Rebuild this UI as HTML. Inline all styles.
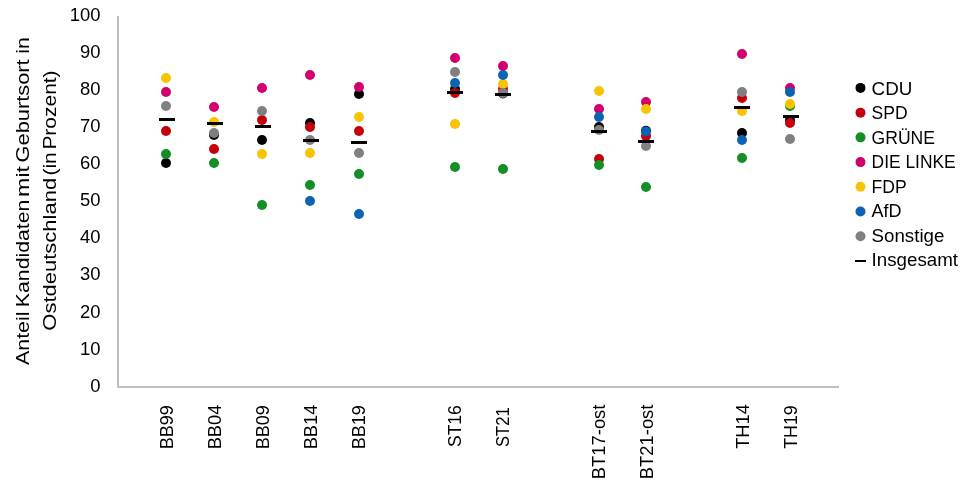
<!DOCTYPE html><html><head><meta charset="utf-8"><style>html,body{margin:0;padding:0;background:#fff;width:969px;height:491px;overflow:hidden}svg{display:block;will-change:transform}text{font-family:"Liberation Sans",Arial,sans-serif;fill:#000}</style></head><body>
<svg width="969" height="491" viewBox="0 0 969 491">
<rect width="969" height="491" fill="#fff"/>
<path d="M118 16 V387 H839" fill="none" stroke="#BFBFBF" stroke-width="2" stroke-linejoin="round"/>
<text x="100.5" y="391.6" font-size="18.4" text-anchor="end">0</text>
<text x="100.5" y="354.5" font-size="18.4" text-anchor="end">10</text>
<text x="100.5" y="317.5" font-size="18.4" text-anchor="end">20</text>
<text x="100.5" y="280.4" font-size="18.4" text-anchor="end">30</text>
<text x="100.5" y="243.4" font-size="18.4" text-anchor="end">40</text>
<text x="100.5" y="206.3" font-size="18.4" text-anchor="end">50</text>
<text x="100.5" y="169.2" font-size="18.4" text-anchor="end">60</text>
<text x="100.5" y="132.2" font-size="18.4" text-anchor="end">70</text>
<text x="100.5" y="95.1" font-size="18.4" text-anchor="end">80</text>
<text x="100.5" y="58.1" font-size="18.4" text-anchor="end">90</text>
<text x="100.5" y="21.0" font-size="18.4" text-anchor="end">100</text>
<text transform="translate(29.3,364.94) rotate(-90)" font-size="19.2" textLength="53.37" lengthAdjust="spacingAndGlyphs">Anteil</text>
<text transform="translate(29.3,307.14) rotate(-90)" font-size="19.2" textLength="107.52" lengthAdjust="spacingAndGlyphs">Kandidaten</text>
<text transform="translate(29.3,196.95) rotate(-90)" font-size="19.2" textLength="31.02" lengthAdjust="spacingAndGlyphs">mit</text>
<text transform="translate(29.3,162.50) rotate(-90)" font-size="19.2" textLength="103.16" lengthAdjust="spacingAndGlyphs">Geburtsort</text>
<text transform="translate(29.3,53.83) rotate(-90)" font-size="19.2" textLength="16.61" lengthAdjust="spacingAndGlyphs">in</text>
<text transform="translate(55.8,330.64) rotate(-90)" font-size="19.2" textLength="152.76" lengthAdjust="spacingAndGlyphs">Ostdeutschland</text>
<text transform="translate(55.8,175.60) rotate(-90)" font-size="19.2" textLength="23.37" lengthAdjust="spacingAndGlyphs">(in</text>
<text transform="translate(55.8,149.62) rotate(-90)" font-size="19.2" textLength="79.22" lengthAdjust="spacingAndGlyphs">Prozent)</text>
<text transform="translate(172.6,405.11) rotate(-90)" font-size="18.3" text-anchor="end" textLength="44.20" lengthAdjust="spacingAndGlyphs">BB99</text>
<text transform="translate(220.6,404.70) rotate(-90)" font-size="18.3" text-anchor="end" textLength="44.63" lengthAdjust="spacingAndGlyphs">BB04</text>
<text transform="translate(268.6,405.11) rotate(-90)" font-size="18.3" text-anchor="end" textLength="44.20" lengthAdjust="spacingAndGlyphs">BB09</text>
<text transform="translate(316.6,404.70) rotate(-90)" font-size="18.3" text-anchor="end" textLength="44.63" lengthAdjust="spacingAndGlyphs">BB14</text>
<text transform="translate(364.6,405.11) rotate(-90)" font-size="18.3" text-anchor="end" textLength="44.20" lengthAdjust="spacingAndGlyphs">BB19</text>
<text transform="translate(460.6,405.15) rotate(-90)" font-size="18.3" text-anchor="end" textLength="41.89" lengthAdjust="spacingAndGlyphs">ST16</text>
<text transform="translate(508.6,407.41) rotate(-90)" font-size="18.3" text-anchor="end" textLength="39.55" lengthAdjust="spacingAndGlyphs">ST21</text>
<text transform="translate(604.6,404.60) rotate(-90)" font-size="18.3" text-anchor="end" textLength="74.58" lengthAdjust="spacingAndGlyphs">BT17-ost</text>
<text transform="translate(652.6,404.60) rotate(-90)" font-size="18.3" text-anchor="end" textLength="74.58" lengthAdjust="spacingAndGlyphs">BT21-ost</text>
<text transform="translate(748.6,404.10) rotate(-90)" font-size="18.3" text-anchor="end" textLength="44.72" lengthAdjust="spacingAndGlyphs">TH14</text>
<text transform="translate(796.6,405.33) rotate(-90)" font-size="18.3" text-anchor="end" textLength="43.47" lengthAdjust="spacingAndGlyphs">TH19</text>
<circle cx="166" cy="163" r="5.0" fill="#000000"/>
<circle cx="214" cy="135" r="5.0" fill="#000000"/>
<circle cx="262" cy="140" r="5.0" fill="#000000"/>
<circle cx="310" cy="123" r="5.0" fill="#000000"/>
<circle cx="359" cy="94" r="5.0" fill="#000000"/>
<circle cx="455" cy="89" r="5.0" fill="#000000"/>
<circle cx="503" cy="93.5" r="5.0" fill="#000000"/>
<circle cx="599" cy="127" r="5.0" fill="#000000"/>
<circle cx="646" cy="130.7" r="5.0" fill="#000000"/>
<circle cx="742" cy="133" r="5.0" fill="#000000"/>
<circle cx="790" cy="120" r="5.0" fill="#000000"/>
<circle cx="166" cy="131" r="5.0" fill="#C4000C"/>
<circle cx="214" cy="149" r="5.0" fill="#C4000C"/>
<circle cx="262" cy="120" r="5.0" fill="#C4000C"/>
<circle cx="310" cy="127" r="5.0" fill="#C4000C"/>
<circle cx="359" cy="131" r="5.0" fill="#C4000C"/>
<circle cx="455" cy="93" r="5.0" fill="#C4000C"/>
<circle cx="503" cy="89" r="5.0" fill="#C4000C"/>
<circle cx="599" cy="159" r="5.0" fill="#C4000C"/>
<circle cx="646" cy="136" r="5.0" fill="#C4000C"/>
<circle cx="742" cy="98" r="5.0" fill="#C4000C"/>
<circle cx="790" cy="123" r="5.0" fill="#C4000C"/>
<circle cx="166" cy="154" r="5.0" fill="#138F26"/>
<circle cx="214" cy="163" r="5.0" fill="#138F26"/>
<circle cx="262" cy="205" r="5.0" fill="#138F26"/>
<circle cx="310" cy="185" r="5.0" fill="#138F26"/>
<circle cx="359" cy="174" r="5.0" fill="#138F26"/>
<circle cx="455" cy="167" r="5.0" fill="#138F26"/>
<circle cx="503" cy="169" r="5.0" fill="#138F26"/>
<circle cx="599" cy="165" r="5.0" fill="#138F26"/>
<circle cx="646" cy="187" r="5.0" fill="#138F26"/>
<circle cx="742" cy="158" r="5.0" fill="#138F26"/>
<circle cx="790" cy="106" r="5.0" fill="#138F26"/>
<circle cx="166" cy="92" r="5.0" fill="#D2006E"/>
<circle cx="214" cy="107" r="5.0" fill="#D2006E"/>
<circle cx="262" cy="88" r="5.0" fill="#D2006E"/>
<circle cx="310" cy="75" r="5.0" fill="#D2006E"/>
<circle cx="359" cy="87" r="5.0" fill="#D2006E"/>
<circle cx="455" cy="58" r="5.0" fill="#D2006E"/>
<circle cx="503" cy="66" r="5.0" fill="#D2006E"/>
<circle cx="599" cy="109" r="5.0" fill="#D2006E"/>
<circle cx="646" cy="102" r="5.0" fill="#D2006E"/>
<circle cx="742" cy="54" r="5.0" fill="#D2006E"/>
<circle cx="790" cy="88" r="5.0" fill="#D2006E"/>
<circle cx="166" cy="78" r="5.0" fill="#FAC300"/>
<circle cx="214" cy="122" r="5.0" fill="#FAC300"/>
<circle cx="262" cy="154" r="5.0" fill="#FAC300"/>
<circle cx="310" cy="153" r="5.0" fill="#FAC300"/>
<circle cx="359" cy="117" r="5.0" fill="#FAC300"/>
<circle cx="455" cy="124" r="5.0" fill="#FAC300"/>
<circle cx="503" cy="84" r="5.0" fill="#FAC300"/>
<circle cx="599" cy="91" r="5.0" fill="#FAC300"/>
<circle cx="646" cy="109" r="5.0" fill="#FAC300"/>
<circle cx="742" cy="111" r="5.0" fill="#FAC300"/>
<circle cx="790" cy="104" r="5.0" fill="#FAC300"/>
<circle cx="310" cy="201" r="5.0" fill="#0A64B4"/>
<circle cx="359" cy="214" r="5.0" fill="#0A64B4"/>
<circle cx="455" cy="83" r="5.0" fill="#0A64B4"/>
<circle cx="503" cy="75" r="5.0" fill="#0A64B4"/>
<circle cx="599" cy="117" r="5.0" fill="#0A64B4"/>
<circle cx="646" cy="131.5" r="5.0" fill="#0A64B4"/>
<circle cx="742" cy="140" r="5.0" fill="#0A64B4"/>
<circle cx="790" cy="92" r="5.0" fill="#0A64B4"/>
<circle cx="166" cy="106" r="5.0" fill="#808080"/>
<circle cx="214" cy="133" r="5.0" fill="#808080"/>
<circle cx="262" cy="111" r="5.0" fill="#808080"/>
<circle cx="310" cy="140" r="5.0" fill="#808080"/>
<circle cx="359" cy="153" r="5.0" fill="#808080"/>
<circle cx="455" cy="72" r="5.0" fill="#808080"/>
<circle cx="503" cy="93" r="5.0" fill="#808080"/>
<circle cx="599" cy="130" r="5.0" fill="#808080"/>
<circle cx="646" cy="146" r="5.0" fill="#808080"/>
<circle cx="742" cy="92" r="5.0" fill="#808080"/>
<circle cx="790" cy="139" r="5.0" fill="#808080"/>
<rect x="159" y="118" width="16" height="3" fill="#000"/>
<rect x="207" y="122" width="16" height="3" fill="#000"/>
<rect x="255" y="125" width="16" height="3" fill="#000"/>
<rect x="303" y="139" width="16" height="3" fill="#000"/>
<rect x="351" y="141" width="16" height="3" fill="#000"/>
<rect x="447" y="91" width="16" height="3" fill="#000"/>
<rect x="495" y="93" width="16" height="3" fill="#000"/>
<rect x="591" y="130" width="16" height="3" fill="#000"/>
<rect x="638" y="140" width="16" height="3" fill="#000"/>
<rect x="734" y="106" width="16" height="3" fill="#000"/>
<rect x="783" y="115" width="16" height="3" fill="#000"/>
<circle cx="860.5" cy="87.90" r="5" fill="#000000"/>
<text x="871.6" y="94.66" font-size="18" textLength="40.7" lengthAdjust="spacingAndGlyphs">CDU</text>
<circle cx="860.5" cy="112.63" r="5" fill="#C4000C"/>
<text x="871.6" y="119.18" font-size="18" textLength="36.0" lengthAdjust="spacingAndGlyphs">SPD</text>
<circle cx="860.5" cy="137.36" r="5" fill="#138F26"/>
<text x="871.6" y="143.70" font-size="18" textLength="63.4" lengthAdjust="spacingAndGlyphs">GRÜNE</text>
<circle cx="860.5" cy="162.09" r="5" fill="#D2006E"/>
<text x="871.6" y="168.22" font-size="18" textLength="84.1" lengthAdjust="spacingAndGlyphs">DIE LINKE</text>
<circle cx="860.5" cy="186.82" r="5" fill="#FAC300"/>
<text x="871.6" y="192.74" font-size="18" textLength="35.0" lengthAdjust="spacingAndGlyphs">FDP</text>
<circle cx="860.5" cy="211.55" r="5" fill="#0A64B4"/>
<text x="871.6" y="217.26" font-size="18" textLength="30.0" lengthAdjust="spacingAndGlyphs">AfD</text>
<circle cx="860.5" cy="236.28" r="5" fill="#808080"/>
<text x="871.6" y="241.78" font-size="18" textLength="72.75" lengthAdjust="spacingAndGlyphs">Sonstige</text>
<rect x="855" y="260" width="11" height="2" fill="#000"/>
<text x="871.6" y="266.30" font-size="18" textLength="86.4" lengthAdjust="spacingAndGlyphs">Insgesamt</text>
</svg></body></html>
